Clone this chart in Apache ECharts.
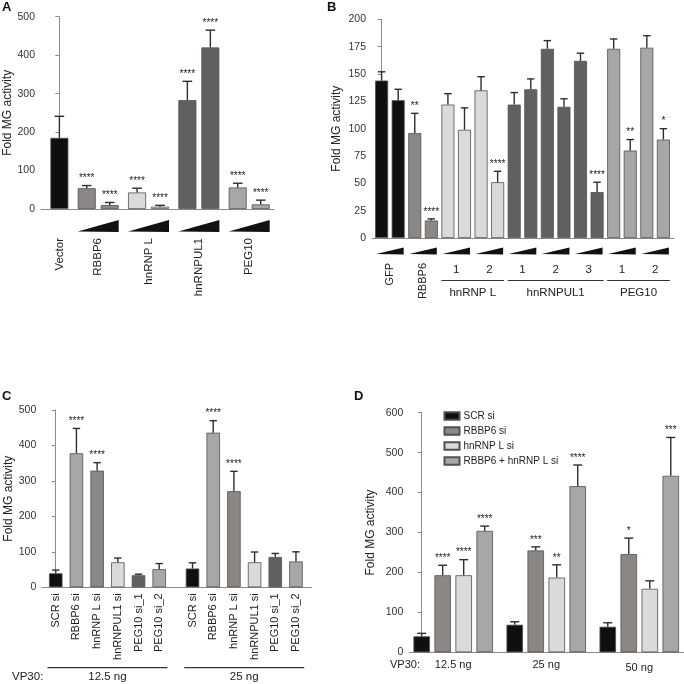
<!DOCTYPE html>
<html><head><meta charset="utf-8">
<script src="https://cdn.jsdelivr.net/npm/echarts@6/dist/echarts.min.js"></script>
<style>html,body{margin:0;padding:0;background:#fff}#c{width:684px;height:684px}</style>
</head><body><div id="c"></div>
<script>
// ================= DATA =================
// Panel A
const aGroups = ['Vector', 'RBBP6', 'hnRNP L', 'hnRNPUL1', 'PEG10'];
const aGroupSizes = [1, 2, 2, 2, 2];
const aValues = [185, 54, 10, 43, 6, 283, 420, 56, 12];
const aErrors = [56, 7, 7, 11, 3.5, 49, 45, 11, 11];
const aStars = ['', '****', '****', '****', '****', '****', '****', '****', '****'];
const aTicks = [0, 500, 100];

// Panel B (each construct = low/high dose pair)
const bGroups = ['GFP', 'RBBP6', 'hnRNP L', 'hnRNPUL1', 'PEG10'];
const bConstructs = [1, 1, 2, 3, 2];
const bValues = [144, 126, 96, 16, 122, 99, 135, 51, 122, 136, 173, 120, 162, 42, 173, 80, 174, 90];
const bErrors = [8, 10, 18, 1.5, 10, 20, 12.5, 10, 11, 9.5, 7.5, 7.3, 7, 9, 9, 10, 11, 10];
const bStars = ['', '', '**', '****', '', '', '', '****', '', '', '', '', '', '****', '', '**', '', '*'];
const bTicks = [0, 200, 25];

// Panel C
const cCategories = ['SCR si', 'RBBP6 si', 'hnRNP L si', 'hnRNPUL1 si', 'PEG10 si_1', 'PEG10 si_2'];
const cGroups = ['12.5 ng', '25 ng'];
const c125Values = [39.5, 378, 329, 70.5, 34, 51];
const c125Errors = [9, 70, 22.5, 12, 3, 16];
const c125Stars = ['', '****', '****', '', '', ''];
const c25Values = [53, 436, 271, 70.5, 85.5, 73];
const c25Errors = [16, 34, 56, 29, 10, 27];
const c25Stars = ['', '****', '****', '', '', ''];
const cTicks = [0, 500, 100];

// Panel D
const dSeries = ['SCR si', 'RBBP6 si', 'hnRNP L si', 'RBBP6 + hnRNP L si'];
const dGroups = ['12.5 ng', '25 ng', '50 ng'];
const dSCR = [40, 69, 64];
const dSCRErr = [7.5, 7.5, 10];
const dSCRStars = ['', '', ''];
const dRBBP6 = [193, 255, 246];
const dRBBP6Err = [25, 9, 40];
const dRBBP6Stars = ['****', '***', '*'];
const dHNRNPL = [193, 187, 159];
const dHNRNPLErr = [39, 32, 20];
const dHNRNPLStars = ['****', '**', ''];
const dCombo = [304, 416, 442];
const dComboErr = [12, 53, 96];
const dComboStars = ['****', '****', '***'];
const dTicks = [0, 600, 100];

// ================= STYLE / LAYOUT =================
const FONT = '"Liberation Sans", Arial, Helvetica, sans-serif';
const BLACK = '#0f0f0f', BROWN = '#8b8785', LIGHT = '#dadada', DARK = '#62605f', MID = '#a8a7a8';
const aColors = [BLACK, BROWN, LIGHT, DARK, MID];
const bColors = [BLACK, BROWN, LIGHT, DARK, MID];
const cColors = [BLACK, MID, BROWN, LIGHT, DARK, MID];
const dColors = [BLACK, BROWN, LIGHT, MID];
const AXIS = '#8a8a8a', ERR = '#2e2e2e', TXT = '#222';

function layout(sizes, gapStep) {
  const xs = [], groupOf = [];
  let x = 0;
  sizes.forEach((n, g) => {
    for (let k = 0; k < n; k++) { xs.push(x); groupOf.push(g); x += 1; }
    x += gapStep - 1;
  });
  return { xs, groupOf };
}
const A = layout(aGroupSizes, 1.19);
const B = layout(bConstructs.map(n => n * 2), 1);
const C = layout([cCategories.length, cCategories.length], 1.61);
const D = layout(dGroups.map(() => dSeries.length), 1.43);

const cValues = c125Values.concat(c25Values);
const cErrors = c125Errors.concat(c25Errors);
const cStars = c125Stars.concat(c25Stars);

const BW = { a: 18, b: 13, c: 13.5, d: 16.5 };

function grid(left, top, width, height) { return { left, top, width, height }; }
const grids = [
  grid(41, 16.7, 233, 192.3),
  grid(372, 19.3, 302, 218.7),
  grid(42.3, 410, 269.4, 177.3),
  grid(409.3, 412.7, 274.7, 239.6)
];
const xRanges = [[-0.80, 9.34], [-0.58, 17.64], [-0.65, 12.37], [-0.59, 12.49]];
const yTicks = [aTicks, bTicks, cTicks, dTicks];
const nameGaps = [25, 29, 28, 33];

const xAxes = xRanges.map((r, i) => ({
  type: 'value', gridIndex: i, min: r[0], max: r[1],
  axisLine: { show: true, onZero: false, lineStyle: { color: AXIS, width: 1 } },
  axisTick: { show: false }, axisLabel: { show: false }, splitLine: { show: false }
}));
const yAxes = yTicks.map((t, i) => ({
  type: 'value', gridIndex: i, min: t[0], max: t[1], interval: t[2],
  name: 'Fold MG activity', nameLocation: 'middle', nameGap: nameGaps[i],
  nameTextStyle: { fontFamily: FONT, fontSize: 12, color: TXT },
  axisLine: { show: true, lineStyle: { color: AXIS, width: 1 } },
  axisTick: { show: true, length: 4, lineStyle: { color: AXIS } },
  axisLabel: { fontFamily: FONT, fontSize: 10.5, color: '#333', margin: 6 },
  splitLine: { show: false }
}));

const barBorder = { borderColor: '#505050', borderWidth: 0.8 };

function barSeries(panel, xs, vals, colorFn, bw, name) {
  return {
    type: 'bar', name: name || ('p' + panel), xAxisIndex: panel, yAxisIndex: panel,
    barWidth: bw, barGap: '-100%', animation: false,
    itemStyle: Object.assign({}, barBorder),
    data: vals.map((v, i) => v == null ? null : ({ value: [xs[i], v], itemStyle: { color: colorFn(i) } }))
  };
}

function errSeries(panel, xs, vals, errs, stars, cap) {
  return {
    type: 'custom', xAxisIndex: panel, yAxisIndex: panel, animation: false, silent: true, z: 5,
    data: vals.map((v, i) => [xs[i], v]),
    renderItem: function (params, api) {
      const i = params.dataIndex;
      const p = api.coord([xs[i], vals[i]]);
      const e = api.coord([xs[i], vals[i] + errs[i]]);
      const ch = [
        { type: 'line', shape: { x1: p[0], y1: p[1], x2: e[0], y2: e[1] }, style: { stroke: ERR, lineWidth: 1.4 } },
        { type: 'line', shape: { x1: e[0] - cap, y1: e[1], x2: e[0] + cap, y2: e[1] }, style: { stroke: ERR, lineWidth: 1.4 } }
      ];
      if (stars[i]) ch.push({ type: 'text', x: e[0], y: e[1] - 2, style: { text: stars[i], align: 'center', verticalAlign: 'bottom', fontFamily: FONT, fontSize: 10, fill: TXT } });
      return { type: 'group', children: ch };
    }
  };
}

function txt(x, y, text, opts) {
  return { type: 'text', x, y, style: Object.assign({ text, fontFamily: FONT, fontSize: 11.5, fill: TXT, align: 'center', verticalAlign: 'middle' }, opts || {}) };
}
function rotTxt(x, y, text, size) {
  return { type: 'text', x, y, rotation: Math.PI / 2, style: { text, fontFamily: FONT, fontSize: size || 11.5, fill: TXT, align: 'right', verticalAlign: 'middle' } };
}
function wedge(xl, xr, yb, h) {
  return { type: 'polygon', shape: { points: [[xl, yb - 0.6], [xr, yb - h], [xr, yb]] }, style: { fill: '#111' } };
}

// ---- Panel A labels ----
const aFirst = []; { let s = 0; aGroupSizes.forEach(n => { aFirst.push(s); s += n; }); }
const aLabelSeries = {
  type: 'custom', xAxisIndex: 0, yAxisIndex: 0, animation: false, silent: true,
  data: aGroups.map((g, k) => [A.xs[aFirst[k]], 0]),
  renderItem: function (params, api) {
    const k = params.dataIndex, f = aFirst[k], l = f + aGroupSizes[k] - 1;
    const p0 = api.coord([A.xs[f], 0]), p1 = api.coord([A.xs[l], 0]);
    const cx = (p0[0] + p1[0]) / 2, y0 = p0[1];
    const ch = [rotTxt(cx, y0 + 29, aGroups[k], 11.5)];
    if (aGroupSizes[k] > 1) ch.push(wedge(p0[0] - BW.a / 2, p1[0] + BW.a / 2, y0 + 23, 12));
    return { type: 'group', children: ch };
  }
};

// ---- Panel B labels ----
const bFirst = []; { let s = 0; bConstructs.forEach(n => { bFirst.push(s); s += n * 2; }); }
const bLabelSeries = {
  type: 'custom', xAxisIndex: 1, yAxisIndex: 1, animation: false, silent: true,
  data: bGroups.map((g, k) => [B.xs[bFirst[k]], 0]),
  renderItem: function (params, api) {
    const k = params.dataIndex, f = bFirst[k], n = bConstructs[k];
    const ch = [];
    const y0 = api.coord([0, 0])[1];
    for (let c = 0; c < n; c++) {
      const q0 = api.coord([B.xs[f + 2 * c], 0]), q1 = api.coord([B.xs[f + 2 * c + 1], 0]);
      ch.push(wedge(q0[0] - BW.b / 2 + 1, q1[0] + BW.b / 2 - 1, y0 + 16.5, 7));
      const cx = (q0[0] + q1[0]) / 2;
      if (n === 1) ch.push(rotTxt(cx, y0 + 25, bGroups[k], 11));
      else ch.push(txt(cx, y0 + 32, String(c + 1)));
    }
    if (n > 1) {
      const g0 = api.coord([B.xs[f], 0]), g1 = api.coord([B.xs[f + 2 * n - 1], 0]);
      const xl = g0[0] - BW.b / 2, xr = g1[0] + BW.b / 2;
      ch.push({ type: 'line', shape: { x1: xl, y1: y0 + 42.5, x2: xr, y2: y0 + 42.5 }, style: { stroke: '#333', lineWidth: 1 } });
      ch.push(txt((xl + xr) / 2, y0 + 55, bGroups[k]));
    }
    return { type: 'group', children: ch };
  }
};

// ---- Panel C labels ----
const cLabelSeries = {
  type: 'custom', xAxisIndex: 2, yAxisIndex: 2, animation: false, silent: true,
  data: cGroups.map((g, k) => [C.xs[k * cCategories.length], 0]),
  renderItem: function (params, api) {
    const k = params.dataIndex, n = cCategories.length, f = k * n;
    const ch = [];
    const y0 = api.coord([0, 0])[1];
    for (let j = 0; j < n; j++) {
      const q = api.coord([C.xs[f + j], 0]);
      ch.push(rotTxt(q[0], y0 + 6, cCategories[j], 11));
    }
    const g0 = api.coord([C.xs[f], 0]), g1 = api.coord([C.xs[f + n - 1], 0]);
    const xl = g0[0] - BW.c / 2 - 1.5, xr = g1[0] + BW.c / 2 + 1.5;
    ch.push({ type: 'line', shape: { x1: xl, y1: y0 + 80.4, x2: xr, y2: y0 + 80.4 }, style: { stroke: '#333', lineWidth: 1.2 } });
    ch.push(txt((xl + xr) / 2, y0 + 90, cGroups[k]));
    if (k === 0) ch.push(txt(12, y0 + 90, 'VP30:', { align: 'left' }));
    return { type: 'group', children: ch };
  }
};

// ---- Panel D labels ----
const dLabelSeries = {
  type: 'custom', xAxisIndex: 3, yAxisIndex: 3, animation: false, silent: true,
  data: dGroups.map((g, k) => [D.xs[k * dSeries.length], 0]),
  renderItem: function (params, api) {
    const k = params.dataIndex, n = dSeries.length, f = k * n;
    const y0 = api.coord([0, 0])[1];
    const g0 = api.coord([D.xs[f], 0]), g1 = api.coord([D.xs[f + n - 1], 0]);
    const ch = [txt((g0[0] + g1[0]) / 2, y0 + 12.5 + (k === 2 ? 3 : 0), dGroups[k], { fontSize: 11 })];
    if (k === 0) ch.push(txt(390, y0 + 12.5, 'VP30:', { align: 'left', fontSize: 11 }));
    return { type: 'group', children: ch };
  }
};

// ---- D series (4 named series) ----
const dVals = [dSCR, dRBBP6, dHNRNPL, dCombo];
const dErrs = [dSCRErr, dRBBP6Err, dHNRNPLErr, dComboErr];
const dStars = [dSCRStars, dRBBP6Stars, dHNRNPLStars, dComboStars];
const dSeriesList = [];
dSeries.forEach((name, s) => {
  const xs = dGroups.map((g, k) => D.xs[k * dSeries.length + s]);
  const bs = barSeries(3, xs, dVals[s], () => dColors[s], BW.d, name);
  bs.itemStyle.color = dColors[s];
  dSeriesList.push(bs);
  dSeriesList.push(errSeries(3, xs, dVals[s], dErrs[s], dStars[s], 4.5));
});

const series = [
  barSeries(0, A.xs, aValues, i => aColors[A.groupOf[i]], BW.a),
  errSeries(0, A.xs, aValues, aErrors, aStars, 4.8),
  aLabelSeries,
  barSeries(1, B.xs, bValues, i => bColors[B.groupOf[i]], BW.b),
  errSeries(1, B.xs, bValues, bErrors, bStars, 3.7),
  bLabelSeries,
  barSeries(2, C.xs, cValues, i => cColors[i % cCategories.length], BW.c),
  errSeries(2, C.xs, cValues, cErrors, cStars, 3.7),
  cLabelSeries,
  ...dSeriesList,
  dLabelSeries
];

const chart = echarts.init(document.getElementById('c'), null, { renderer: 'canvas' });
chart.setOption({
  animation: false,
  backgroundColor: '#fff',
  grid: grids,
  xAxis: xAxes,
  yAxis: yAxes,
  legend: {
    data: dSeries, orient: 'vertical', left: 443.5, top: 409.5, padding: 0,
    itemWidth: 15, itemHeight: 7.5, itemGap: 2, icon: 'rect',
    selectedMode: false,
    textStyle: { fontFamily: FONT, fontSize: 10, color: TXT, lineHeight: 13, padding: [0, 0, 0, -1] }
  },
  graphic: [
    { type: 'text', left: 2, top: 1, style: { text: 'A', fontFamily: FONT, fontWeight: 'bold', fontSize: 13, fill: '#111' } },
    { type: 'text', left: 327, top: 1, style: { text: 'B', fontFamily: FONT, fontWeight: 'bold', fontSize: 13, fill: '#111' } },
    { type: 'text', left: 2, top: 390, style: { text: 'C', fontFamily: FONT, fontWeight: 'bold', fontSize: 13, fill: '#111' } },
    { type: 'text', left: 354, top: 390, style: { text: 'D', fontFamily: FONT, fontWeight: 'bold', fontSize: 13, fill: '#111' } }
  ],
  series
});
</script></body></html>
